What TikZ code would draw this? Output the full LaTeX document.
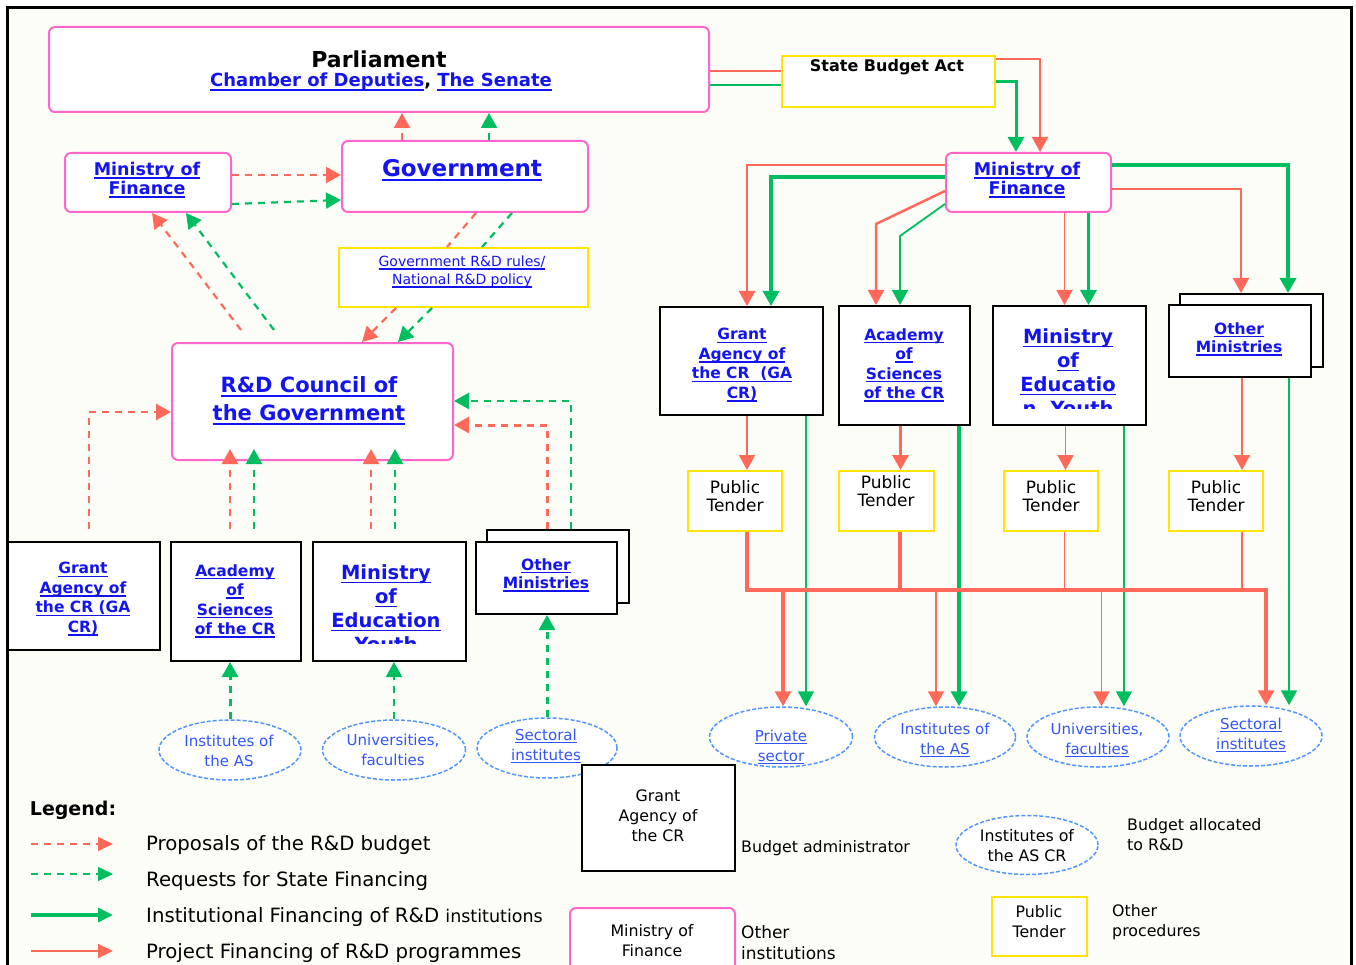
\documentclass[tikz,border=0pt]{standalone}
\usepackage{fontspec}
\setmainfont{DejaVu Sans}
\usetikzlibrary{arrows.meta,shapes.geometric}
\definecolor{pk}{RGB}{255,102,204}
\definecolor{rd}{RGB}{255,105,90}
\definecolor{gn}{RGB}{0,190,95}
\definecolor{lnk}{RGB}{20,20,240}
\definecolor{eb}{RGB}{80,150,255}
\definecolor{et}{RGB}{50,85,250}
\definecolor{yl}{RGB}{255,228,0}
\definecolor{bg}{RGB}{253,253,248}
\newcommand\ul[1]{\setbox0\hbox{#1}\rlap{\rule[-0.2em]{\wd0}{0.09em}}\box0}
\tikzset{
  pbox/.style={draw=pk, line width=2pt, rounded corners=6pt, fill=white},
  kbox/.style={draw=black, line width=2pt, fill=white},
  ybox/.style={draw=yl, line width=2pt, fill=white},
  ell/.style={ellipse, draw=eb, dash pattern=on 4pt off 2pt, line width=1.5pt, fill=white, inner sep=0pt},
  txt/.style={inner sep=0pt, align=center},
  lk/.style={text=lnk},
  fMoF/.style={font=\fontsize{17.5}{19}\selectfont\bfseries},
  fGA/.style={font=\fontsize{15.5}{19.5}\selectfont\bfseries},
  fMoE/.style={font=\fontsize{19.5}{24}\selectfont\bfseries},
  fOM/.style={font=\fontsize{15.5}{18.5}\selectfont\bfseries},
  fPT/.style={font=\fontsize{17}{18.5}\selectfont},
  fEll/.style={font=\fontsize{15}{20}\selectfont, text=et},
  fLeg/.style={font=\fontsize{19.7}{22}\selectfont},
  fSm/.style={font=\fontsize{15.8}{20}\selectfont},
  arr/.style={-{Triangle[length=15pt,width=16pt]}},
  larr/.style={-{Triangle[length=15pt,width=14pt]}},
  rdd/.style={draw=rd, line width=2.2pt, dash pattern=on 7pt off 6pt},
  gnd/.style={draw=gn, line width=2.2pt, dash pattern=on 7pt off 6pt},
  rdthin/.style={draw=rd, line width=1.8pt},
  rdthick/.style={draw=rd, line width=3.2pt},
  gnthin/.style={draw=gn, line width=1.8pt},
  gnthick/.style={draw=gn, line width=3.5pt},
}
\begin{document}
\begin{tikzpicture}[x=1pt,y=-1pt]
\useasboundingbox (0,0) rectangle (1356,965);
\fill[white] (0,0) rectangle (1356,965);
\fill[bg] (7,8) rectangle (1351,975);
\draw[line width=3pt] (7,975) -- (7,8) -- (1351,8) -- (1351,975);

% ---------- boxes ----------
\node[pbox, minimum width=660, minimum height=85] (parl) at (379,69.5) {};
\node[pbox, minimum width=166, minimum height=59] (mofL) at (148,182.5) {};
\node[pbox, minimum width=246, minimum height=71] (gov) at (465,176.5) {};
\node[ybox, minimum width=249, minimum height=59] (rules) at (463.5,277.5) {};
\node[pbox, minimum width=281, minimum height=117] (council) at (312.5,401.5) {};
\node[kbox, minimum width=152, minimum height=108] (gaL) at (84,596) {};
\node[kbox, minimum width=130, minimum height=119] (acL) at (236,601.5) {};
\node[kbox, minimum width=153, minimum height=119] (moeL) at (389.5,601.5) {};
\node[kbox, minimum width=142, minimum height=73] (omLb) at (558,566.5) {};
\node[kbox, minimum width=141, minimum height=72] (omL) at (546.5,578) {};
\node[ell, minimum width=142, minimum height=60] (iasL) at (230,750) {};
\node[ell, minimum width=143, minimum height=60] (uniL) at (394,750) {};
\node[ell, minimum width=140, minimum height=60] (secL) at (547,748) {};

\node[ybox, minimum width=213, minimum height=51] (sba) at (888.5,81.5) {};
\node[pbox, minimum width=165, minimum height=59] (mofR) at (1028.5,182.5) {};
\node[kbox, minimum width=163, minimum height=108] (gaR) at (741.5,361) {};
\node[kbox, minimum width=131, minimum height=119] (acR) at (904.5,365.5) {};
\node[kbox, minimum width=153, minimum height=119] (moeR) at (1069.5,365.5) {};
\node[kbox, minimum width=143, minimum height=73] (omRb) at (1251.5,330.5) {};
\node[kbox, minimum width=142, minimum height=72] (omR) at (1240,341) {};
\node[ybox, minimum width=94, minimum height=60] (pt1) at (735,501) {};
\node[ybox, minimum width=95, minimum height=60] (pt2) at (886.5,501) {};
\node[ybox, minimum width=94, minimum height=60] (pt3) at (1051,501) {};
\node[ybox, minimum width=94, minimum height=60] (pt4) at (1216,501) {};
\node[ell, minimum width=143, minimum height=60] (priv) at (781,737) {};
\node[ell, minimum width=141, minimum height=60] (iasR) at (945,737) {};
\node[ell, minimum width=142, minimum height=60] (uniR) at (1098,737) {};
\node[ell, minimum width=142, minimum height=60] (secR) at (1251,736) {};

% legend boxes
\node[kbox, minimum width=153, minimum height=106] (lgGA) at (658.5,818) {};
\node[pbox, minimum width=165, minimum height=70] (lgMoF) at (652.5,943) {};
\node[ell, minimum width=142, minimum height=59] (lgEll) at (1027,845) {};
\node[ybox, minimum width=95, minimum height=59] (lgPT) at (1039.5,926.5) {};

% ---------- texts ----------
\node[txt, font=\fontsize{22}{26}\selectfont\bfseries] (parlT) at (379,59) {Parliament};
\node[txt, lk, font=\fontsize{18}{20}\selectfont\bfseries] (parlS) at (381,82) {\ul{Chamber of Deputies}\textcolor{black}{,} \ul{The Senate}};
\node[txt, lk, fMoF] (mofLT) at (147,180) {\ul{Ministry of}\\\ul{Finance}};
\node[txt, lk, font=\fontsize{23}{26}\selectfont\bfseries] (govT) at (462,170) {\ul{Government}};
\node[txt, lk, font=\fontsize{14}{18}\selectfont] (rulesT) at (462,272) {\ul{Government R\&D rules/}\\\ul{National R\&D policy}};
\node[txt, lk, font=\fontsize{21}{28}\selectfont\bfseries] (councilT) at (309,401) {\ul{R\&D Council of}\\\ul{the Government}};
\node[txt, lk, fGA] (gaLT) at (83,599) {\ul{Grant}\\\ul{Agency of}\\\ul{the CR (GA}\\\ul{CR)}};
\node[txt, lk, fGA] (acLT) at (235,601) {\ul{Academy}\\\ul{of}\\\ul{Sciences}\\\ul{of the CR}};
\begin{scope}
\clip (moeL.north west) rectangle ([yshift=19]moeL.south east);
\node[txt, lk, fMoE] (moeLT) at (386,610) {\ul{Ministry}\\\ul{of}\\\ul{Education}\\\ul{Youth}};
\end{scope}
\node[txt, lk, fOM] (omLT) at (546,575) {\ul{Other}\\\ul{Ministries}};
\node[txt, fEll] (iasLT) at (229,751) {Institutes of\\the AS};
\node[txt, fEll] (uniLT) at (393,750) {Universities,\\faculties};
\node[txt, fEll] (secLT) at (546,746) {\ul{Sectoral}\\\ul{institutes}};

\node[txt, font=\fontsize{16}{19}\selectfont\bfseries] (sbaT) at (887,67) {State Budget Act};
\node[txt, lk, fMoF] (mofRT) at (1027,180) {\ul{Ministry of}\\\ul{Finance}};
\node[txt, lk, fGA] (gaRT) at (742,365) {\ul{Grant}\\\ul{Agency of}\\\ul{the CR\ \ (GA}\\\ul{CR)}};
\node[txt, lk, fGA] (acRT) at (904,365) {\ul{Academy}\\\ul{of}\\\ul{Sciences}\\\ul{of the CR}};
\begin{scope}
\clip (moeR.north west) rectangle ([yshift=18]moeR.south east);
\node[txt, lk, fMoE] (moeRT) at (1068,374) {\ul{Ministry}\\\ul{of}\\\ul{Educatio}\\\ul{n, Youth}};
\end{scope}
\node[txt, lk, fOM] (omRT) at (1239,339) {\ul{Other}\\\ul{Ministries}};
\node[txt, fPT] (pt1T) at (735,496) {Public\\Tender};
\node[txt, fPT] (pt2T) at (886,491) {Public\\Tender};
\node[txt, fPT] (pt3T) at (1051,496) {Public\\Tender};
\node[txt, fPT] (pt4T) at (1216,496) {Public\\Tender};
\node[txt, fEll] (privT) at (781,747) {\ul{Private}\\\ul{sector}};
\node[txt, fEll] (iasRT) at (945,740) {Institutes of\\\ul{the AS}};
\node[txt, fEll] (uniRT) at (1097,740) {Universities,\\\ul{faculties}};
\node[txt, fEll] (secRT) at (1251,735) {\ul{Sectoral}\\\ul{institutes}};

% legend texts
\node[txt, font=\fontsize{19}{22}\selectfont\bfseries] (legT) at (73,810) {Legend:};
\node[txt, fLeg, anchor=west] (leg1) at (146,845) {Proposals of the R\&D budget};
\node[txt, fLeg, anchor=west] (leg2) at (146,881) {Requests for State Financing};
\node[txt, fLeg, anchor=west] (leg3) at (146,917) {Institutional Financing of R\&D {\fontsize{17.5}{20}\selectfont institutions}};
\node[txt, fLeg, anchor=west] (leg4) at (146,953) {Project Financing of R\&D programmes};
\node[txt, fSm] (lgGAT) at (658,816) {Grant\\Agency of\\the CR};
\node[txt, fSm, anchor=west] (lgGAL) at (741,848) {Budget administrator};
\node[txt, fSm] (lgMoFT) at (652,941) {Ministry of\\Finance};
\node[txt, font=\fontsize{17}{21}\selectfont, align=left, anchor=west] (lgMoFL) at (741,943) {Other\\institutions};
\node[txt, fSm] (lgEllT) at (1027,846) {Institutes of\\the AS CR};
\node[txt, fSm, align=left, anchor=west] (lgEllL) at (1127,835) {Budget allocated\\to R\&D};
\node[txt, fSm] (lgPTT) at (1039,922) {Public\\Tender};
\node[txt, fSm, align=left, anchor=west] (lgPTL) at (1112,922) {Other\\procedures};

% ---------- connectors: left part ----------
\draw[rdd,arr] ([xshift=-63]gov.north) -- ([xshift=-63]gov.north |- parl.south);
\draw[gnd,arr] ([xshift=24]gov.north) -- ([xshift=24]gov.north |- parl.south);
\draw[rdd,arr] ([yshift=7.5]mofL.east) -- ([yshift=7.5]mofL.east -| gov.west);
\draw[gnd,arr] ([yshift=-21.5]mofL.east) -- ([yshift=-23.5]gov.west);
\draw[rdd] ([xshift=11]gov.south) -- ([xshift=-16.5]rules.north);
\draw[gnd] ([xshift=47]gov.south) -- ([xshift=18.5]rules.north);
\draw[rdd,arr] ([xshift=-67.5]rules.south) -- ([xshift=49.5]council.north);
\draw[gnd,arr] ([xshift=-31.5]rules.south) -- ([xshift=85.5]council.north);
\draw[rdd,arr] ([xshift=-71.5,yshift=12]council.north) -- ([xshift=4]mofL.south);
\draw[gnd,arr] ([xshift=-38.5,yshift=12]council.north) -- ([xshift=38]mofL.south);
\draw[rdd,arr] ([xshift=5,yshift=12]gaL.north) |- ([yshift=-10.5]council.west);
\draw[rdd,arr] ([xshift=-6,yshift=12]acL.north) -- ([xshift=-6,yshift=12]acL.north |- council.south);
\draw[gnd,arr] ([xshift=18,yshift=12]acL.north) -- ([xshift=18,yshift=12]acL.north |- council.south);
\draw[rdd,arr] ([xshift=-18.5,yshift=12]moeL.north) -- ([xshift=-18.5,yshift=12]moeL.north |- council.south);
\draw[gnd,arr] ([xshift=5.5,yshift=12]moeL.north) -- ([xshift=5.5,yshift=12]moeL.north |- council.south);
\draw[rdd,line width=3pt,arr] ([xshift=-11]omLb.north) |- ([yshift=-23.5]council.east);
\draw[gnd,arr] ([xshift=13]omLb.north) |- ([yshift=0.5]council.east);
\draw[gnd,line width=3pt,arr] (iasL.north) -- (iasL.north |- acL.south);
\draw[gnd,arr] (uniL.north) -- (uniL.north |- moeL.south);
\draw[gnd,line width=3pt,arr] (secL.north) -- (secL.north |- omL.south);

% ---------- connectors: right part ----------
\draw[rdthin] ([yshift=-1.5]parl.east) -- ([yshift=-1.5]parl.east -| sba.west);
\draw[gnthin] ([yshift=-15.5]parl.east) -- ([yshift=-15.5]parl.east -| sba.west);
\draw[rd, line width=2.2pt, arr] ([yshift=22.5]sba.east) -| ([xshift=11.5]mofR.north);
\draw[gn, line width=3pt, arr] ([yshift=-0.5]sba.east) -| ([xshift=-12.5]mofR.north);

\draw[rd, line width=2.5pt, arr] ([yshift=17.5]mofR.west) -| ([xshift=5.5]gaR.north);
\draw[gnthick, arr] ([yshift=5.5]mofR.west) -| ([xshift=29.5]gaR.north);
\draw[rd, line width=2.5pt, arr] ([yshift=-8.5]mofR.west) -- ([xshift=-28.5,yshift=81]acR.north) -- ([xshift=-28.5]acR.north);
\draw[gnthin, arr] ([yshift=-21.5]mofR.west) -- ([xshift=-4.5,yshift=69]acR.north) -- ([xshift=-4.5]acR.north);
\draw[rdthin, arr] ([xshift=36]mofR.south) -- ([xshift=36]mofR.south |- moeR.north);
\draw[gnthick, arr] ([xshift=60]mofR.south) -- ([xshift=60]mofR.south |- moeR.north);
\draw[rdthin, arr] ([yshift=-6.5]mofR.east) -| ([xshift=-10.5]omRb.north);
\draw[gnthick, arr] ([yshift=17.5]mofR.east) -| ([xshift=36.5]omRb.north);

\draw[rdthin, arr] ([xshift=5.5]gaR.south) -- ([xshift=5.5]gaR.south |- pt1.north);
\draw[rdthick, arr] ([xshift=-4]acR.south) -- ([xshift=-4]acR.south |- pt2.north);
\draw[rdthin, arr] ([xshift=-4]moeR.south) -- ([xshift=-4]moeR.south |- pt3.north);
\draw[rdthin, arr] ([xshift=2]omR.south) -- ([xshift=2]omR.south |- pt4.north);

\draw[gnthin, arr] ([xshift=64.5]gaR.south) -- ([xshift=64.5]gaR.south |- priv.north);
\draw[gnthick, arr] ([xshift=54.5]acR.south) -- ([xshift=54.5]acR.south |- iasR.north);
\draw[gnthin, arr] ([xshift=54.5]moeR.south) -- ([xshift=54.5]moeR.south |- uniR.north);
\draw[gnthin, arr] ([xshift=49]omR.south) -- ([xshift=49]omR.south |- secR.north);

\coordinate (busR) at (1266,590);
\draw[rdthick, arr] ([xshift=12]pt1.south) |- (busR) -- (busR |- secR.north);
\draw[rdthick] ([xshift=13.5]pt2.south) -- ([xshift=13.5]pt2.south |- busR);
\draw[rdthin] ([xshift=13.5]pt3.south) -- ([xshift=13.5]pt3.south |- busR);
\draw[rdthin] ([xshift=26]pt4.south) -- ([xshift=26]pt4.south |- busR);
\draw[rdthick, arr] ([xshift=2]priv.north |- busR) -- ([xshift=2]priv.north);
\draw[rdthin, arr] ([xshift=-9]iasR.north |- busR) -- ([xshift=-9]iasR.north);
\draw[rdthin, arr] ([xshift=3.5]uniR.north |- busR) -- ([xshift=3.5]uniR.north);

% ---------- legend lines ----------
\coordinate (l1a) at (31,844); \coordinate (l1b) at (113,844);
\coordinate (l2a) at (31,874); \coordinate (l2b) at (113,874);
\coordinate (l3a) at (31,915); \coordinate (l3b) at (113,915);
\coordinate (l4a) at (31,951); \coordinate (l4b) at (113,951);
\draw[rd, line width=1.5pt, dash pattern=on 7pt off 6pt, larr] (l1a) -- (l1b);
\draw[gn, line width=1.5pt, dash pattern=on 7pt off 6pt, larr] (l2a) -- (l2b);
\draw[gn, line width=3.5pt, larr] (l3a) -- (l3b);
\draw[rd, line width=2pt, larr] (l4a) -- (l4b);
\end{tikzpicture}
\end{document}
